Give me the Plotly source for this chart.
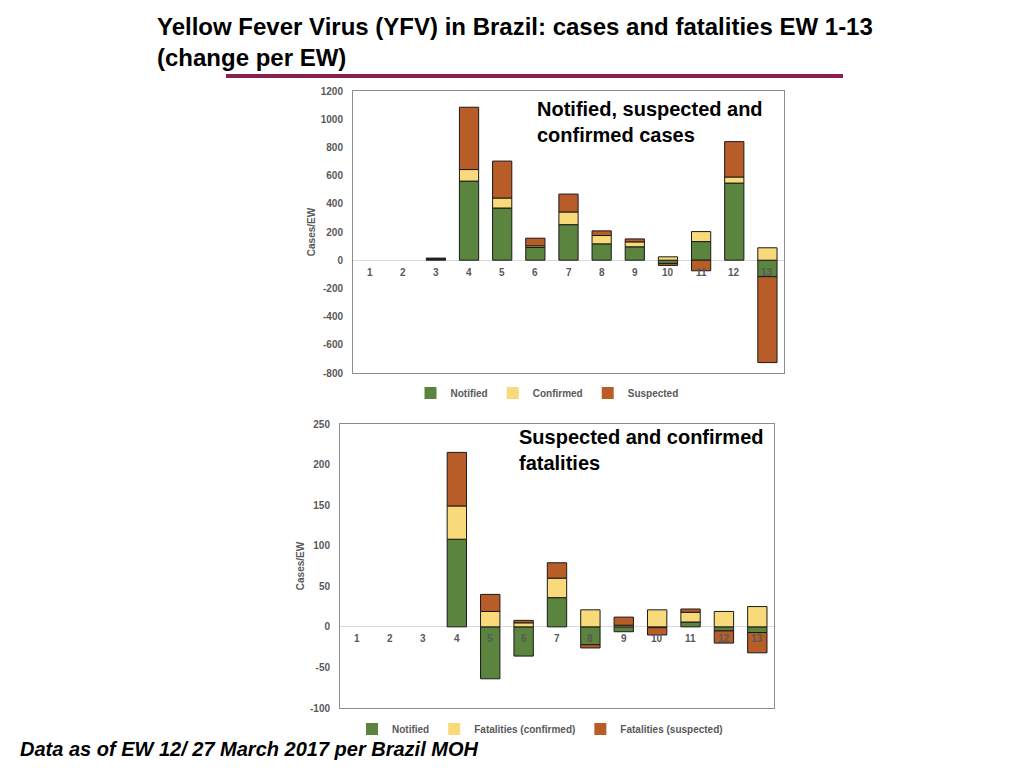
import plotly.graph_objects as go

weeks = [str(w) for w in range(1, 14)]

# cases, change per EW
cases_notified = [0, 0, 8, 561, 370, 90, 252, 116, 95, -23, 132, 547, -117]
cases_confirmed = [0, 0, 2, 82, 71, 12, 90, 59, 35, 24, 71, 43, 88]
cases_suspected = [0, 0, 5, 442, 262, 54, 127, 33, 21, -14, -75, 251, -609]

# fatalities, change per EW
fat_notified = [0, 0, 0, 108, -64, -36, 36, -22, -6, -1, 6, -5, -7]
fat_confirmed = [0, 0, 0, 41, 19, 5, 24, 21, 2, 21, 12, 19, 25]
fat_suspected = [0, 0, 0, 66, 21, 3, 19, -4, 10, -9, 4, -15, -25]

# y ticks (plain hyphen for negatives, as in the source)
cases_ticks = [-800, -600, -400, -200, 0, 200, 400, 600, 800, 1000, 1200]
fat_ticks = [-100, -50, 0, 50, 100, 150, 200, 250]

GREEN = "#5b843f"
YELLOW = "#f8da7a"
ORANGE = "#b85d28"
GRAY = "#595959"
FONT = "Liberation Sans, Arial, sans-serif"

# page has an 8px body margin, so work in screen pixels and shift
W, H = 1008, 752


def fx(px):
    return (px - 8) / W


def fy(py):
    return 1 - (py - 8) / H


fig = go.Figure()

top = [("Notified", cases_notified, GREEN),
       ("Confirmed", cases_confirmed, YELLOW),
       ("Suspected", cases_suspected, ORANGE)]
for name, vals, col in top:
    fig.add_trace(go.Bar(x=weeks, y=vals, name="<b>%s</b>" % name,
                         marker_color=col,
                         marker_line=dict(color="#1a1a1a",
                                          width=[0 if v == 0 else 1 for v in vals]),
                         xaxis="x", yaxis="y", legend="legend"))

bottom = [("Notified", fat_notified, GREEN),
          ("Fatalities (confirmed)", fat_confirmed, YELLOW),
          ("Fatalities (suspected)", fat_suspected, ORANGE)]
for name, vals, col in bottom:
    fig.add_trace(go.Bar(x=weeks, y=vals, name="<b>%s</b>" % name,
                         marker_color=col,
                         marker_line=dict(color="#1a1a1a",
                                          width=[0 if v == 0 else 1 for v in vals]),
                         xaxis="x2", yaxis="y2", legend="legend2"))

# week labels sitting just under the zero line (category index positions)
annotations = []
for xa, ya in [("x", "y"), ("x2", "y2")]:
    for i, w in enumerate(weeks):
        annotations.append(dict(text="<b>%s</b>" % w, x=i, y=0, xref=xa, yref=ya,
                                yshift=-12, showarrow=False,
                                font=dict(size=10, color=GRAY, family=FONT)))

xcommon = dict(type="category", range=[-0.5, len(weeks) - 0.5],
               showticklabels=False, showgrid=False,
               zeroline=False, showline=True, linecolor="#8c8c8c",
               linewidth=1, mirror=True, ticks="", automargin=False)
ycommon = dict(showgrid=False, zeroline=True, zerolinecolor="#d9d9d9",
               zerolinewidth=1, showline=True, linecolor="#8c8c8c",
               linewidth=1, mirror=True, ticks="", automargin=False,
               ticklabelstandoff=7,
               tickfont=dict(size=10, color=GRAY, family=FONT),
               title=dict(text="<b>Cases/EW</b>",
                          font=dict(size=10, color=GRAY, family=FONT),
                          standoff=3))

legfont = dict(size=10, color=GRAY, family=FONT)

annotations += [
    dict(text="<b>Yellow Fever Virus (YFV) in Brazil: cases and fatalities EW 1-13<br>(change per EW)</b>",
         xref="paper", yref="paper", x=fx(155), y=fy(11),
         xanchor="left", yanchor="top", align="left", showarrow=False,
         font=dict(size=24, color="black", family=FONT)),
    dict(text="<b>Notified, suspected and<br>confirmed cases</b>",
         xref="paper", yref="paper", x=fx(535), y=fy(96),
         xanchor="left", yanchor="top", align="left", showarrow=False,
         font=dict(size=20, color="black", family=FONT)),
    dict(text="<b>Suspected and confirmed<br>fatalities</b>",
         xref="paper", yref="paper", x=fx(517), y=fy(424),
         xanchor="left", yanchor="top", align="left", showarrow=False,
         font=dict(size=20, color="black", family=FONT)),
    dict(text="<b><i>Data as of EW 12/ 27 March 2017 per Brazil MOH</i></b>",
         xref="paper", yref="paper", x=fx(18), y=fy(762),
         xanchor="left", yanchor="bottom", showarrow=False,
         font=dict(size=20, color="black", family=FONT)),
]

fig.update_layout(
    width=W, height=H,
    margin=dict(l=0, r=0, t=0, b=0, autoexpand=False),
    paper_bgcolor="white", plot_bgcolor="white",
    barmode="relative", bargap=0.42,
    font=dict(family=FONT),
    showlegend=True,
    xaxis=dict(domain=[fx(353), fx(784)], anchor="y", **xcommon),
    yaxis=dict(domain=[fy(373), fy(91)], anchor="x", range=[-800, 1200],
               tickvals=cases_ticks,
               ticktext=["<b>%d</b>" % v for v in cases_ticks], **ycommon),
    xaxis2=dict(domain=[fx(340), fx(774)], anchor="y2", **xcommon),
    yaxis2=dict(domain=[fy(708), fy(424)], anchor="x2", range=[-100, 250],
                tickvals=fat_ticks,
                ticktext=["<b>%d</b>" % v for v in fat_ticks], **ycommon),
    legend=dict(orientation="h", x=fx(547), xanchor="center", y=fy(393),
                yanchor="middle", font=legfont, itemwidth=30,
                bgcolor="rgba(0,0,0,0)"),
    legend2=dict(orientation="h", x=fx(540), xanchor="center", y=fy(729),
                 yanchor="middle", font=legfont, itemwidth=30,
                 bgcolor="rgba(0,0,0,0)"),
    annotations=annotations,
    shapes=[
        dict(type="line", xref="paper", yref="paper",
             x0=fx(226), x1=fx(843), y0=fy(76), y1=fy(76),
             line=dict(color="#8b1f4e", width=4)),
    ],
)

fig.write_html("out.html")
